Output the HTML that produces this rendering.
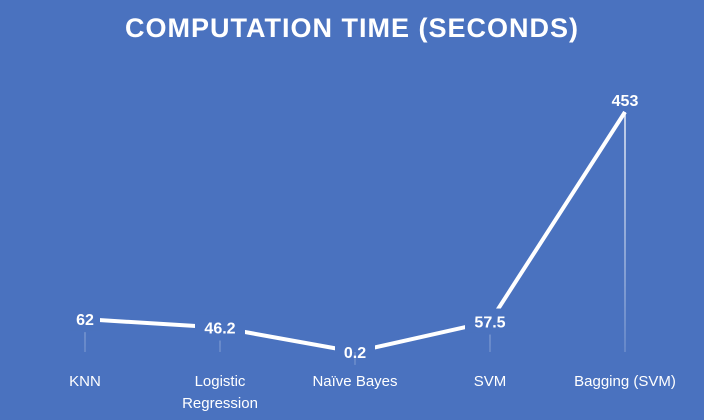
<!DOCTYPE html>
<html><head><meta charset="utf-8"><style>
body{margin:0;background:#4a72bf;}
svg{display:block;font-family:"Liberation Sans",sans-serif;}
</style></head><body>
<svg id="c" width="704" height="420">
<defs><linearGradient id="fade" gradientUnits="userSpaceOnUse" x1="0" y1="110" x2="0" y2="352"><stop offset="0" stop-color="#fff" stop-opacity="0.9"/><stop offset="1" stop-color="#fff" stop-opacity="0.2"/></linearGradient></defs>
<rect width="704" height="420" fill="#4a72bf"/>
<text x="352" y="37" text-anchor="middle" fill="#fff" font-size="27" font-weight="bold" letter-spacing="1">COMPUTATION TIME (SECONDS)</text>
<g id="g"></g>
</svg>
<script>
const categories=["KNN","Logistic|Regression","Naïve Bayes","SVM","Bagging (SVM)"];
const values=[62,46.2,0.2,57.5,453];
const labels=["62","46.2","0.2","57.5","453"];
const g=document.getElementById('g');
const NS='http://www.w3.org/2000/svg';
const x=i=>85+i*135;
const y=v=>352-v*(240/453);
function mk(t,a){const e=document.createElementNS(NS,t);for(const k in a)e.setAttribute(k,a[k]);g.appendChild(e);return e;}
const p=mk('polyline',{points:values.map((v,i)=>x(i)+','+y(v)).join(' '),fill:'none',stroke:'#fff','stroke-width':4,'stroke-linejoin':'round'});


values.forEach((v,i)=>{
  const top=v>300;
  const ly=top?y(v)-12:y(v);
  const w=labels[i].length*10+10;
  const r=mk('rect',{x:x(i)-w/2,y:ly-13,width:w,height:24,fill:'#4a72bf'});
  
  
  const l=mk('line',{x1:x(i),x2:x(i),y1:top?y(v):ly+13,y2:352,stroke:'url(#fade)','stroke-width':1.5});
  
  
  const t=mk('text',{x:x(i),y:ly+6,'text-anchor':'middle',fill:'#fff','font-size':16,'font-weight':'bold'});
  t.textContent=labels[i];
  
  
  const c=categories[i].split('|');
  c.forEach((s,j)=>{
    const ct=mk('text',{x:x(i),y:386+j*22,'text-anchor':'middle',fill:'#fff','font-size':15});
    ct.textContent=s;
    
    
  });
});
</script>
</body></html>
